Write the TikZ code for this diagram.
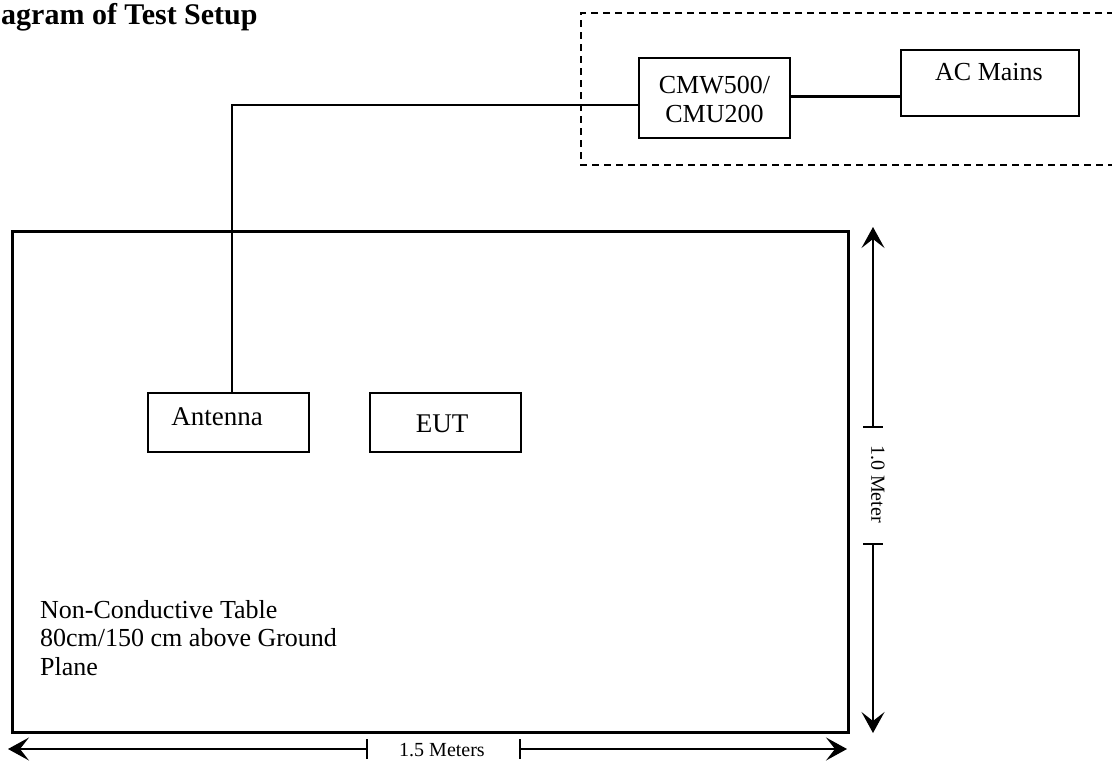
\documentclass[tikz,border=0pt]{standalone}
\usepackage{fontspec}
\setmainfont{Liberation Serif}
\usetikzlibrary{arrows.meta}
\begin{document}
\begin{tikzpicture}[x=1pt,y=-1pt,
  box/.style={draw,line width=1.4pt,inner sep=0pt},
  wire/.style={line width=1.3pt},
  dim/.style={line width=1.3pt,-{Stealth[length=21pt,width=23pt,inset=9pt]}},
  lbl/.style={font=\fontsize{26}{29}\selectfont,inner sep=0pt}]
\useasboundingbox (0,0) rectangle (1112,761);
% title
\node[anchor=base west,inner sep=0pt,font=\fontsize{30}{34}\selectfont\bfseries] (title) at (1,24) {agram of Test Setup};
% dashed region
\draw[line width=1.3pt,dash pattern=on 7pt off 5pt] (1114,13) -- (581,13) -- (581,165) -- (1114,165);
% boxes
\node[box,minimum width=151pt,minimum height=80pt] (cmw) at (714.5,98) {};
\node[lbl,align=center] (cmwt) at (714.5,99) {CMW500/\\CMU200};
\node[box,minimum width=178pt,minimum height=66pt] (ac) at (990,83) {};
\node[lbl] (act) at (989,72) {AC Mains};
\node[box,minimum width=161pt,minimum height=59pt] (ant) at (228.5,422.5) {};
\node[lbl,font=\fontsize{27}{30}\selectfont] (antt) at (217,417) {Antenna};
\node[box,minimum width=151pt,minimum height=59pt] (eut) at (445.5,422.5) {};
\node[lbl,font=\fontsize{27}{30}\selectfont] (eutt) at (442,424) {EUT};
% table
\draw[line width=3pt] (12,231) rectangle (848,732);
\node[align=left,anchor=north west,inner sep=0pt,font=\fontsize{26}{28.5}\selectfont] (tbl) at (40,600) {Non-Conductive Table\\80cm/150 cm above Ground\\Plane};
% connections
\coordinate (bend) at (232,105);
\draw[wire] (cmw.west |- bend) -- (bend) -- (bend |- ant.north);
\draw[line width=3pt] (cmw.east |- 0,96) -- (ac.west |- 0,96);
% vertical dimension
\node[inner sep=0pt,font=\fontsize{20}{22}\selectfont,rotate=-90] (vm) at (878,484) {1.0 Meter};
\coordinate (vt1) at (873,427);
\coordinate (vt2) at (873,544);
\coordinate (vtop) at (873,227);
\coordinate (vbot) at (873,733);
\draw[dim] (vt1) -- (vtop);
\draw[dim] (vt2) -- (vbot);
\draw[line width=1.3pt] ([xshift=-10pt]vt1) -- ([xshift=10pt]vt1);
\draw[line width=1.3pt] ([xshift=-10pt]vt2) -- ([xshift=10pt]vt2);
% horizontal dimension
\node[inner sep=0pt,font=\fontsize{20}{22}\selectfont] (hm) at (442,750) {1.5 Meters};
\coordinate (ht1) at (367,749);
\coordinate (ht2) at (520,749);
\coordinate (hl) at (8,749);
\coordinate (hr) at (847,749);
\draw[dim] (ht1) -- (hl);
\draw[dim] (ht2) -- (hr);
\draw[line width=1.3pt] ([yshift=-10pt]ht1) -- ([yshift=10pt]ht1);
\draw[line width=1.3pt] ([yshift=-10pt]ht2) -- ([yshift=10pt]ht2);
\end{tikzpicture}
\end{document}
